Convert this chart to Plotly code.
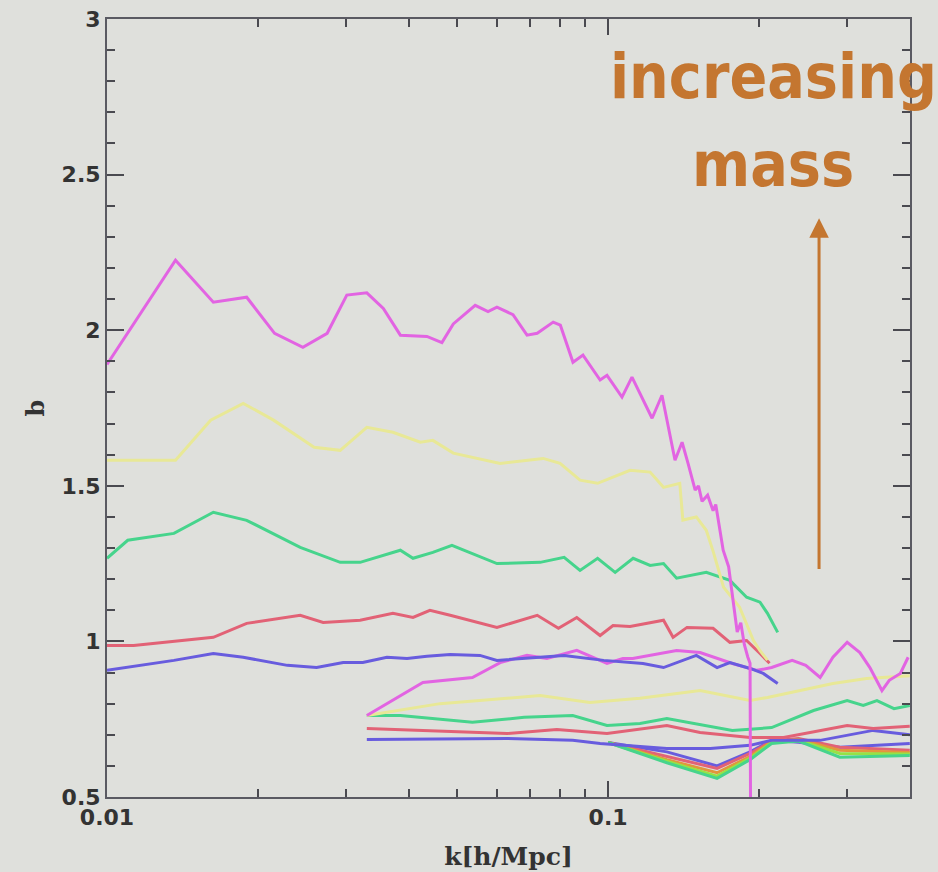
import plotly.graph_objects as go

# ---- bias b(k) for five mass bins, three simulation boxes ----
# large box (k from 0.01)
K_MAG_A = [0.0100, 0.0137, 0.0163, 0.0190, 0.0216, 0.0246, 0.0275, 0.0301, 0.0330, 0.0356,
           0.0385, 0.0435, 0.0466, 0.0491, 0.0543, 0.0576, 0.0600, 0.0646, 0.0689, 0.0722,
           0.0777, 0.0803, 0.0851, 0.0891, 0.0964, 0.0995, 0.1066, 0.1116, 0.1224, 0.1281,
           0.1360, 0.1405, 0.1444, 0.1492, 0.1515, 0.1540, 0.1580, 0.1620, 0.1640, 0.1697,
           0.1740, 0.1780, 0.1810, 0.1840, 0.1870, 0.1900, 0.1920, 0.1925]
B_MAG_A = [1.89, 2.225, 2.09, 2.106, 1.99, 1.945, 1.99, 2.113, 2.12, 2.07,
           1.984, 1.98, 1.96, 2.02, 2.08, 2.06, 2.074, 2.05, 1.984, 1.99,
           2.026, 2.016, 1.897, 1.92, 1.84, 1.855, 1.785, 1.849, 1.717, 1.791,
           1.582, 1.64, 1.572, 1.486, 1.50, 1.45, 1.47, 1.42, 1.44, 1.293,
           1.24, 1.12, 1.03, 1.06, 0.99, 0.95, 0.93, 0.40]

K_YEL_A = [0.0100, 0.0137, 0.0161, 0.0187, 0.0215, 0.0259, 0.0292, 0.0330, 0.0372, 0.0422,
           0.0447, 0.0491, 0.0609, 0.0742, 0.0802, 0.0879, 0.0953, 0.1106, 0.1213, 0.129,
           0.139, 0.141, 0.150, 0.157, 0.162, 0.170, 0.183, 0.195, 0.201, 0.208]
B_YEL_A = [1.582, 1.582, 1.711, 1.765, 1.711, 1.624, 1.614, 1.688, 1.672, 1.640,
           1.646, 1.605, 1.572, 1.588, 1.572, 1.518, 1.508, 1.55, 1.544, 1.495,
           1.508, 1.39, 1.40, 1.357, 1.29, 1.174, 1.11, 1.003, 0.97, 0.94]

K_GRN_A = [0.0100, 0.0110, 0.0136, 0.0163, 0.0190, 0.0243, 0.0292, 0.0320, 0.0385, 0.0408,
           0.0447, 0.0488, 0.0600, 0.0732, 0.0817, 0.0879, 0.0953, 0.1033, 0.1122, 0.1213,
           0.129, 0.137, 0.157, 0.170, 0.175, 0.189, 0.201, 0.208, 0.218]
B_GRN_A = [1.267, 1.325, 1.347, 1.415, 1.389, 1.302, 1.254, 1.254, 1.293, 1.267,
           1.286, 1.309, 1.25, 1.254, 1.27, 1.228, 1.267, 1.222, 1.267, 1.244,
           1.25, 1.203, 1.222, 1.203, 1.196, 1.142, 1.126, 1.09, 1.029]

K_RED_A = [0.0100, 0.0113, 0.0163, 0.0190, 0.0243, 0.0270, 0.0320, 0.0372, 0.0408, 0.0441,
           0.0484, 0.0600, 0.0722, 0.0796, 0.0866, 0.0964, 0.1023, 0.1106, 0.129, 0.1348,
           0.1437, 0.162, 0.175, 0.189, 0.201, 0.210]
B_RED_A = [0.987, 0.987, 1.013, 1.058, 1.084, 1.061, 1.068, 1.09, 1.077, 1.10,
           1.084, 1.045, 1.084, 1.042, 1.077, 1.019, 1.051, 1.048, 1.068, 1.013,
           1.045, 1.042, 0.997, 1.003, 0.961, 0.93]

K_BLU_A = [0.0100, 0.0136, 0.0163, 0.0187, 0.0229, 0.0262, 0.0296, 0.0324, 0.0362, 0.0397,
           0.0435, 0.0484, 0.0555, 0.0600, 0.0817, 0.0980, 0.1174, 0.129, 0.150, 0.165,
           0.175, 0.192, 0.204, 0.218]
B_BLU_A = [0.907, 0.939, 0.961, 0.949, 0.923, 0.916, 0.932, 0.932, 0.949, 0.945,
           0.952, 0.958, 0.955, 0.939, 0.955, 0.939, 0.929, 0.916, 0.955, 0.916,
           0.932, 0.913, 0.897, 0.865]

# medium box (k from 0.033)
K_MAG_B = [0.0330, 0.0427, 0.0536, 0.0609, 0.0689, 0.0755, 0.0866, 0.0995, 0.107, 0.112,
           0.137, 0.1526, 0.177, 0.1984, 0.212, 0.233, 0.248, 0.265, 0.281, 0.300,
           0.318, 0.333, 0.352, 0.364, 0.383, 0.397]
B_MAG_B = [0.762, 0.868, 0.884, 0.932, 0.955, 0.945, 0.971, 0.929, 0.945, 0.945,
           0.971, 0.964, 0.929, 0.907, 0.916, 0.939, 0.923, 0.884, 0.949, 0.997,
           0.964, 0.916, 0.842, 0.875, 0.897, 0.949]

K_YEL_B = [0.0330, 0.0462, 0.0732, 0.092, 0.1158, 0.1526, 0.192, 0.208, 0.281, 0.328, 0.400]
B_YEL_B = [0.762, 0.80, 0.826, 0.804, 0.817, 0.842, 0.81, 0.82, 0.865, 0.881, 0.89]

K_GRN_B = [0.0330, 0.0385, 0.0536, 0.068, 0.085, 0.0995, 0.1158, 0.131, 0.177, 0.212,
           0.257, 0.300, 0.323, 0.344, 0.372, 0.400]
B_GRN_B = [0.762, 0.762, 0.74, 0.756, 0.762, 0.73, 0.736, 0.752, 0.714, 0.723,
           0.778, 0.81, 0.794, 0.81, 0.784, 0.794]

K_RED_B = [0.0330, 0.0629, 0.079, 0.0995, 0.131, 0.1526, 0.192, 0.224, 0.300, 0.338, 0.400]
B_RED_B = [0.72, 0.704, 0.717, 0.704, 0.73, 0.707, 0.691, 0.691, 0.73, 0.72, 0.727]

K_BLU_B = [0.0330, 0.0629, 0.085, 0.0964, 0.131, 0.160, 0.192, 0.212, 0.265, 0.338, 0.400]
B_BLU_B = [0.685, 0.688, 0.682, 0.672, 0.656, 0.656, 0.666, 0.682, 0.682, 0.714, 0.70]

# small box (k from 0.1)
K_C = [0.100, 0.131, 0.165, 0.192, 0.212, 0.240, 0.290, 0.400]
B_RED_C = [0.675, 0.63, 0.592, 0.64, 0.68, 0.688, 0.66, 0.65]
B_ORA_C = [0.675, 0.62, 0.578, 0.63, 0.678, 0.685, 0.65, 0.643]
B_GRN_C = [0.675, 0.61, 0.560, 0.62, 0.672, 0.68, 0.628, 0.633]
B_LGR_C = [0.675, 0.615, 0.567, 0.625, 0.675, 0.682, 0.64, 0.638]
B_BLU_C = [0.675, 0.645, 0.600, 0.645, 0.682, 0.676, 0.66, 0.672]

Y_TICKS = [0.5, 1, 1.5, 2, 2.5, 3]
Y_TICK_TEXT = ["0.5", "1", "1.5", "2", "2.5", "3"]
X_TICKS = [0.01, 0.1]
X_TICK_TEXT = ["0.01", "0.1"]
X_MINOR = [0.02, 0.03, 0.04, 0.05, 0.06, 0.07, 0.08, 0.09, 0.2, 0.3, 0.4]

MAGENTA = "rgb(226,100,226)"
YELLOW = "rgb(232,232,150)"
GREEN = "rgb(70,212,140)"
RED = "rgb(226,98,118)"
BLUE = "rgb(104,92,222)"
ORANGE = "rgb(226,150,60)"
LGREEN = "rgb(150,226,70)"
BROWN = "rgb(196,118,48)"
BG = "#dfe0dc"
INK = "#333333"

fig = go.Figure()


def add(k, b, color, width=3):
    fig.add_trace(go.Scatter(x=k, y=b, mode="lines",
                             line=dict(color=color, width=width),
                             hoverinfo="skip", showlegend=False))


# small box
add(K_C, B_BLU_C, BLUE)
add(K_C, B_RED_C, RED)
add(K_C, B_ORA_C, ORANGE)
add(K_C, B_LGR_C, LGREEN)
add(K_C, B_GRN_C, GREEN)
# medium box
add(K_BLU_B, B_BLU_B, BLUE)
add(K_RED_B, B_RED_B, RED)
add(K_GRN_B, B_GRN_B, GREEN)
add(K_YEL_B, B_YEL_B, YELLOW)
add(K_MAG_B, B_MAG_B, MAGENTA)
# large box
add(K_BLU_A, B_BLU_A, BLUE)
add(K_RED_A, B_RED_A, RED)
add(K_GRN_A, B_GRN_A, GREEN)
add(K_YEL_A, B_YEL_A, YELLOW)
add(K_MAG_A, B_MAG_A, MAGENTA)

axis_common = dict(
    showline=True, linecolor="#5a5a62", linewidth=2, mirror="ticks",
    ticks="inside", tickcolor="#4a4a50", tickwidth=2,
    showgrid=False, zeroline=False, automargin=False,
    tickfont=dict(family="DejaVu Sans, sans-serif", size=22,
                  color=INK, weight="bold"),
)

fig.update_xaxes(
    type="log", range=[-2, -0.3975],
    tickmode="array", tickvals=X_TICKS, ticktext=X_TICK_TEXT, ticklen=16,
    minor=dict(tickmode="array", tickvals=X_MINOR, ticks="inside",
               ticklen=8, tickwidth=2, tickcolor="#4a4a50"),
    title=dict(text="k[h/Mpc]", standoff=18,
               font=dict(family="DejaVu Serif, serif",
                         size=25, color=INK, weight="bold")),
    **axis_common,
)
fig.update_yaxes(
    range=[0.5, 3],
    tickmode="array", tickvals=Y_TICKS, ticktext=Y_TICK_TEXT, ticklen=17,
    minor=dict(dtick=0.1, ticks="inside", ticklen=8, tickwidth=2,
               tickcolor="#4a4a50"),
    title=dict(text="b", standoff=10,
               font=dict(family="DejaVu Serif, serif",
                         size=24, color=INK, weight="bold")),
    **axis_common,
)

# two-line label with an upward arrow
label_font = dict(family="DejaVu Sans Condensed, DejaVu Sans, sans-serif",
                  size=62, color=BROWN, weight="bold")
fig.add_annotation(x=0.83, y=0.975, xref="paper", yref="paper", xanchor="center",
                   yanchor="top", showarrow=False, text="increasing", font=label_font)
fig.add_annotation(x=0.83, y=0.862, xref="paper", yref="paper", xanchor="center",
                   yanchor="top", showarrow=False, text="mass", font=label_font)
fig.add_annotation(x=-0.579, y=2.36, xref="x", yref="y",
                   ax=-0.579, ay=1.228, axref="x", ayref="y",
                   text="", showarrow=True, arrowhead=2, arrowsize=1.3,
                   arrowwidth=3, arrowcolor=BROWN)

fig.update_layout(
    width=938, height=872,
    margin=dict(l=107, r=28, t=19, b=75),
    paper_bgcolor=BG, plot_bgcolor=BG,
    showlegend=False,
)

fig.write_html("out.html")
